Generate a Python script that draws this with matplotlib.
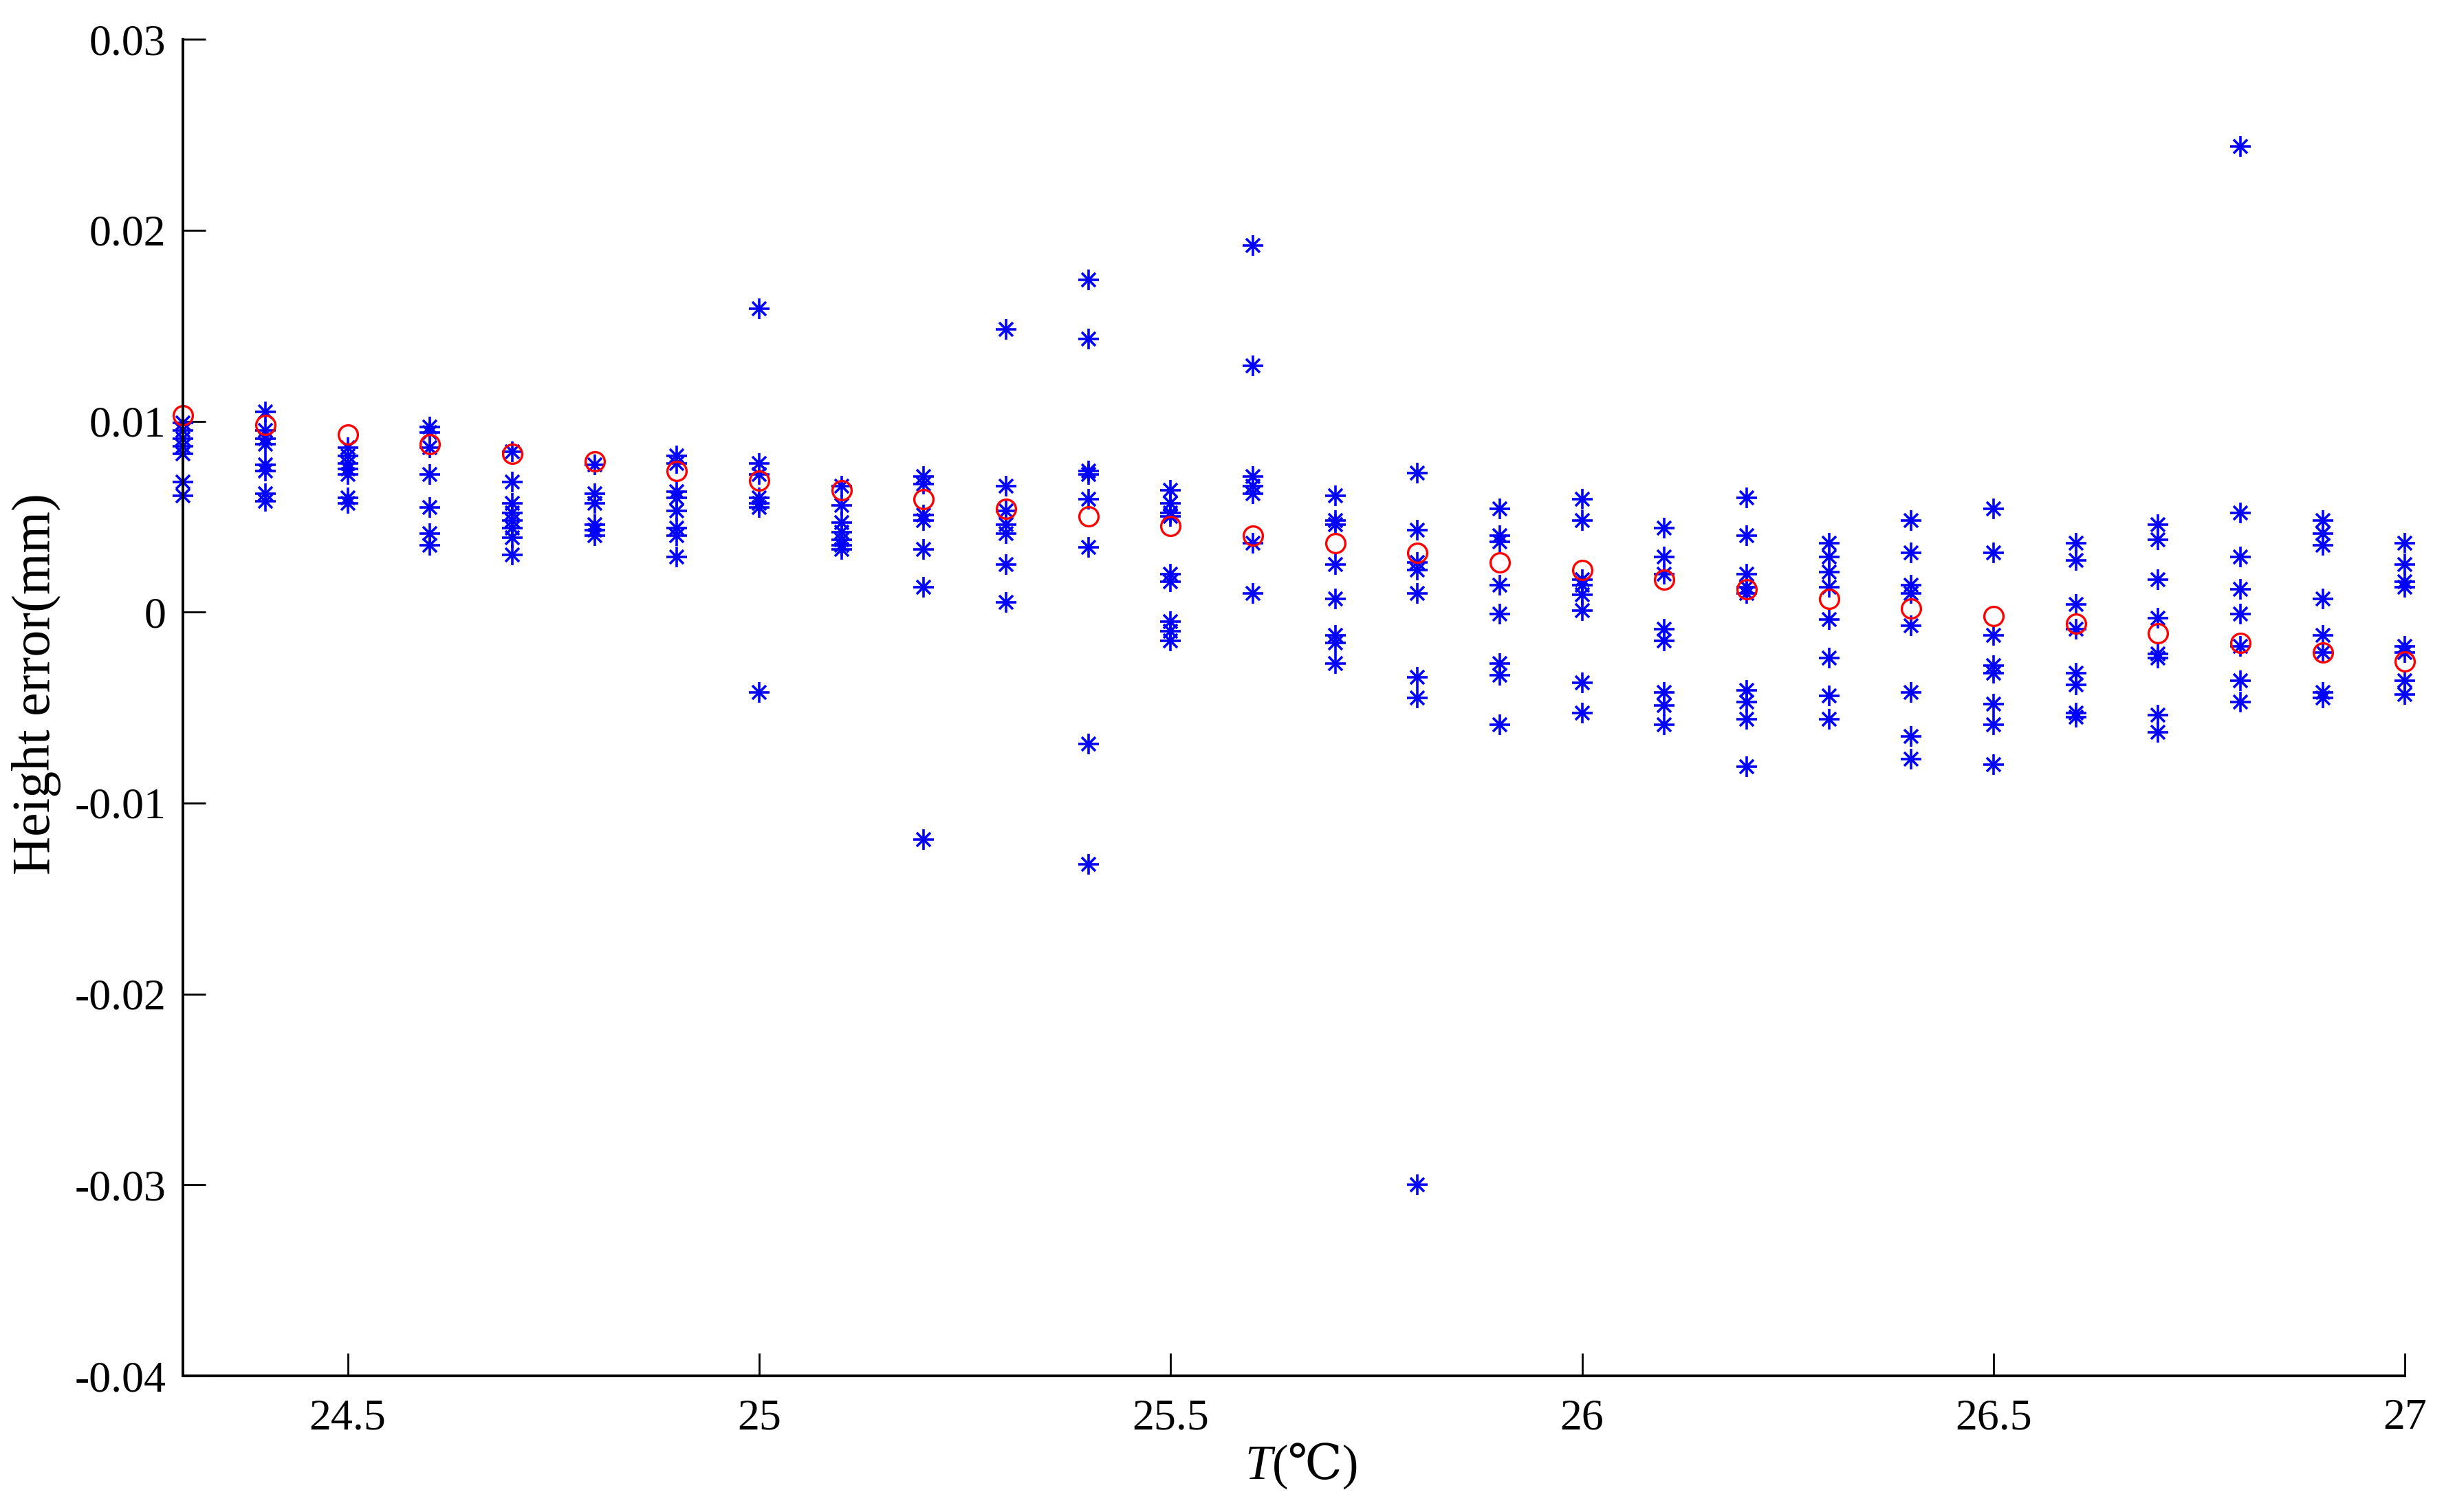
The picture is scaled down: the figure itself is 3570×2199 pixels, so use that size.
import matplotlib
matplotlib.use("Agg")
from matplotlib import pyplot as plt
from matplotlib import ticker

# temperature steps (deg C)
temps = [24.3, 24.4, 24.5, 24.6, 24.7, 24.8, 24.9, 25.0, 25.1, 25.2, 25.3, 25.4, 25.5, 25.6,
         25.7, 25.8, 25.9, 26.0, 26.1, 26.2, 26.3, 26.4, 26.5, 26.6, 26.7, 26.8, 26.9, 27.0]

# measured height errors (mm), one list per temperature
measured = [
    [0.0099, 0.0095, 0.0091, 0.0087, 0.0083, 0.0068, 0.0061],
    [0.0105, 0.0095, 0.0091, 0.0088, 0.0077, 0.0074, 0.0062, 0.0058],
    [0.0086, 0.0082, 0.0078, 0.0075, 0.0072, 0.0060, 0.0057],
    [0.0097, 0.0094, 0.0086, 0.0072, 0.0055, 0.0041, 0.0035],
    [0.0084, 0.0068, 0.0057, 0.0052, 0.0048, 0.0044, 0.0039, 0.0030],
    [0.0077, 0.0062, 0.0057, 0.0046, 0.0043, 0.0040],
    [0.0082, 0.0078, 0.0063, 0.0060, 0.0053, 0.0044, 0.0040, 0.0029],
    [0.0159, 0.0078, 0.0072, 0.0060, 0.0057, 0.0055, -0.0042],
    [0.0066, 0.0056, 0.0047, 0.0042, 0.0038, 0.0035, 0.0033],
    [0.0071, 0.0067, 0.0051, 0.0048, 0.0033, 0.0013, -0.0119],
    [0.0148, 0.0066, 0.0053, 0.0046, 0.0041, 0.0025, 0.0005],
    [0.0174, 0.0143, 0.0074, 0.0072, 0.0059, 0.0034, -0.0069, -0.0132],
    [0.0064, 0.0057, 0.0052, 0.0050, 0.0020, 0.0016, -0.0005, -0.0010, -0.0015],
    [0.0192, 0.0129, 0.0071, 0.0066, 0.0062, 0.0036, 0.0010],
    [0.0061, 0.0048, 0.0046, 0.0025, 0.0007, -0.0012, -0.0016, -0.0027],
    [0.0073, 0.0043, 0.0026, 0.0022, 0.0010, -0.0034, -0.0045, -0.0300],
    [0.0054, 0.0040, 0.0037, 0.0014, -0.0001, -0.0027, -0.0033, -0.0059],
    [0.0059, 0.0048, 0.0017, 0.0014, 0.0009, 0.0001, -0.0037, -0.0053],
    [0.0044, 0.0029, 0.0020, -0.0009, -0.0015, -0.0042, -0.0049, -0.0059],
    [0.0060, 0.0040, 0.0020, 0.0013, 0.0010, -0.0041, -0.0047, -0.0056, -0.0081],
    [0.0036, 0.0029, 0.0021, 0.0013, -0.0004, -0.0024, -0.0044, -0.0056],
    [0.0048, 0.0031, 0.0014, 0.0010, -0.0007, -0.0042, -0.0065, -0.0077],
    [0.0054, 0.0031, -0.0012, -0.0028, -0.0032, -0.0048, -0.0059, -0.0080],
    [0.0036, 0.0027, 0.0004, -0.0009, -0.0032, -0.0038, -0.0053, -0.0055],
    [0.0046, 0.0038, 0.0017, -0.0003, -0.0022, -0.0024, -0.0054, -0.0063],
    [0.0244, 0.0052, 0.0029, 0.0012, -0.0001, -0.0018, -0.0036, -0.0047],
    [0.0048, 0.0041, 0.0035, 0.0007, -0.0012, -0.0021, -0.0042, -0.0045],
    [0.0036, 0.0025, 0.0016, 0.0013, -0.0018, -0.0021, -0.0036, -0.0043],
]

# fitted trend (red circles)
fitted = [0.0103, 0.0098, 0.0093, 0.0088, 0.0083, 0.0079, 0.0074, 0.0069, 0.0064, 0.0059,
          0.0054, 0.0050, 0.0045, 0.0040, 0.0036, 0.0031, 0.0026, 0.0022, 0.0017, 0.0012,
          0.0007, 0.0002, -0.0002, -0.0006, -0.0011, -0.0016, -0.0021, -0.0026]

plt.rcParams['font.family'] = ['Liberation Serif', 'DejaVu Serif', 'DejaVu Sans']
plt.rcParams['axes.unicode_minus'] = False

fig = plt.figure(figsize=(35.7, 21.99), dpi=100)
ax = fig.add_axes([0.0746, 0.090, 0.905, 0.884])

xs = []
ys = []
for t, vals in zip(temps, measured):
    xs += [t] * len(vals)
    ys += vals

# MATLAB-style asterisk = plus + cross
ax.plot(xs, ys, linestyle='none', marker='+', markersize=22, markeredgewidth=2.6,
        color='#0000ff', clip_on=False)
ax.plot(xs, ys, linestyle='none', marker='x', markersize=15, markeredgewidth=2.6,
        color='#0000ff', clip_on=False)
ax.plot(temps, fitted, linestyle='none', marker='o', markersize=20, markeredgewidth=2.4,
        markerfacecolor='none', markeredgecolor='#ff0000', clip_on=False)

ax.set_xlim(24.3, 27)
ax.set_ylim(-0.04, 0.03)
ax.xaxis.set_major_locator(ticker.MultipleLocator(0.5))
ax.yaxis.set_major_locator(ticker.MultipleLocator(0.01))
fmt = ticker.FuncFormatter(lambda v, p: '%g' % round(v, 6))
ax.xaxis.set_major_formatter(fmt)
ax.yaxis.set_major_formatter(fmt)

ax.spines['top'].set_visible(False)
ax.spines['right'].set_visible(False)
ax.spines['left'].set_linewidth(2.8)
ax.spines['bottom'].set_linewidth(2.8)
ax.tick_params(direction='in', length=24, width=2, labelsize=46)
ax.tick_params(axis='x', pad=24)
ax.tick_params(axis='y', pad=18)

ax.set_ylabel('Height error(mm)', fontsize=56)
ax.yaxis.set_label_coords(-0.066, 0.518)
ax.yaxis.label.set_va('center')

# x label: italic T followed by (℃)
tlab = ax.text(0.478, -0.068, 'T', transform=ax.transAxes, fontsize=51,
               style='italic', ha='left', va='center')
ax.annotate('(℃)', xy=(1, 0.5), xycoords=tlab, fontsize=51, ha='left', va='center',
            family=['Liberation Serif', 'DejaVu Serif', 'DejaVu Sans'])

fig.savefig('out.png', dpi=100)
